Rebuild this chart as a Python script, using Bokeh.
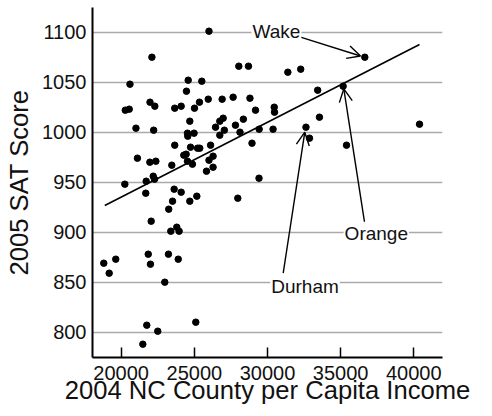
from bokeh.plotting import figure
from bokeh.models import FixedTicker, Arrow, OpenHead, Label, Range1d, ColumnDataSource
from bokeh.embed import file_html
from bokeh.resources import INLINE

# 2004 NC county per capita income vs 2005 SAT score
income = [26000, 22100, 20600, 24580, 25510, 24460, 21970, 22300, 20280, 20550,
          23660, 24100, 25010, 25350, 25950, 26900, 27650, 28800, 28040, 28700,
          31390, 32270, 33430, 36650, 35170, 29180, 30460, 30480, 33550, 26740,
          26970, 27810, 28350, 26450, 27050, 26740, 28120, 29430, 30380, 32630,
          32870, 35400, 40390, 28940, 29420, 27970, 24690, 21010, 22220, 24530,
          24980, 24550, 23660, 24280, 24440, 24740, 25220, 25370, 26110, 21110,
          21960, 22370, 23460, 24530, 24870, 26000, 25830, 26280, 26280, 20250,
          21710, 22190, 22280, 21680, 23620, 24100, 25170, 24690, 23510, 23250,
          22050, 23390, 23800, 23960, 18810, 19180, 19630, 21850, 22000, 23230,
          23900, 22980, 21750, 22500, 25100, 21480]
sat = [1101, 1075, 1048, 1052, 1051, 1041, 1030, 1026, 1022, 1023,
       1024, 1026, 1024, 1030, 1033, 1033, 1035, 1034, 1066, 1066,
       1060, 1063, 1042, 1075, 1046, 1022, 1025, 1020, 1015, 1011,
       1014, 1007, 1013, 1005, 1002, 997, 1000, 1003, 1003, 1005,
       994, 987, 1008, 989, 954, 934, 1011, 1004, 1002, 999,
       999, 996, 987, 977, 978, 985, 984, 984, 987, 974,
       970, 971, 967, 971, 968, 972, 961, 965, 976, 948,
       951, 956, 953, 939, 943, 940, 936, 931, 931, 923,
       911, 901, 905, 901, 869, 859, 873, 878, 868, 878,
       873, 850, 807, 801, 810, 788]

# fitted regression line end points
fit_x = [18880, 40390]
fit_y = [926.7, 1087.7]

x_ticks = [20000, 25000, 30000, 35000, 40000]
y_ticks = [800, 850, 900, 950, 1000, 1050, 1100]

# annotations: name, label position, arrow tail, arrow tip
ann_names = ["Wake", "Orange", "Durham"]
ann_label_x = [28906, 37436, 32563]
ann_label_y = [1101, 899, 846]
ann_align = ["left", "center", "center"]
arrow_x0 = [32255, 36650, 31073]
arrow_y0 = [1095, 908.4, 859]
arrow_x1 = [36356, 35215, 32549]
arrow_y1 = [1076.2, 1043.4, 1000]

FONT = "Liberation Sans"

p = figure(width=492, height=416, output_backend="svg", toolbar_location=None,
           x_range=Range1d(18040, 41960), y_range=Range1d(774.7, 1124.7),
           min_border_left=92, min_border_right=50, min_border_top=7, min_border_bottom=59)
p.outline_line_color = None
p.background_fill_color = "white"
p.border_fill_color = "white"

p.xgrid.grid_line_color = None
p.ygrid.grid_line_color = "#aaaaaa"
p.ygrid.grid_line_width = 1.5

p.xaxis.ticker = FixedTicker(ticks=x_ticks)
p.yaxis.ticker = FixedTicker(ticks=y_ticks)
for ax in (p.xaxis[0], p.yaxis[0]):
    ax.axis_line_width = 2
    ax.axis_line_color = "black"
    ax.minor_tick_line_color = None
    ax.major_label_text_font = FONT
    ax.major_label_text_font_size = "20px"
    ax.major_label_text_color = "#111111"
    ax.axis_label_text_font = FONT
    ax.axis_label_text_font_size = "25.6px"
    ax.axis_label_text_font_style = "normal"
    ax.axis_label_text_color = "#111111"

p.xaxis.axis_label = "2004 NC County per Capita Income"
p.yaxis.axis_label = "2005 SAT Score"
p.xaxis.major_tick_in = 10
p.xaxis.major_tick_out = 0
p.xaxis.major_tick_line_width = 1.5
p.xaxis.major_label_standoff = 8
p.xaxis.axis_label_standoff = -7
p.yaxis.major_tick_in = 0
p.yaxis.major_tick_out = 0
p.yaxis.major_label_standoff = 6
p.yaxis.axis_label_standoff = 6

src = ColumnDataSource(data=dict(x=income, y=sat))
p.scatter("x", "y", source=src, size=6.5, color="black")
p.line(fit_x, fit_y, line_color="black", line_width=1.6)

for i, name in enumerate(ann_names):
    p.add_layout(Arrow(end=OpenHead(size=13, line_width=1.4, line_color="black"),
                       x_start=arrow_x0[i], y_start=arrow_y0[i],
                       x_end=arrow_x1[i], y_end=arrow_y1[i],
                       line_width=1.4, line_color="black"))
for i, name in enumerate(ann_names):
    p.add_layout(Label(x=ann_label_x[i], y=ann_label_y[i], text=name,
                       text_align=ann_align[i], text_baseline="middle",
                       text_font=FONT, text_font_size="19px", text_color="#111111",
                       background_fill_color="white", padding=1))

open("out.html", "w").write(file_html(p, INLINE))
